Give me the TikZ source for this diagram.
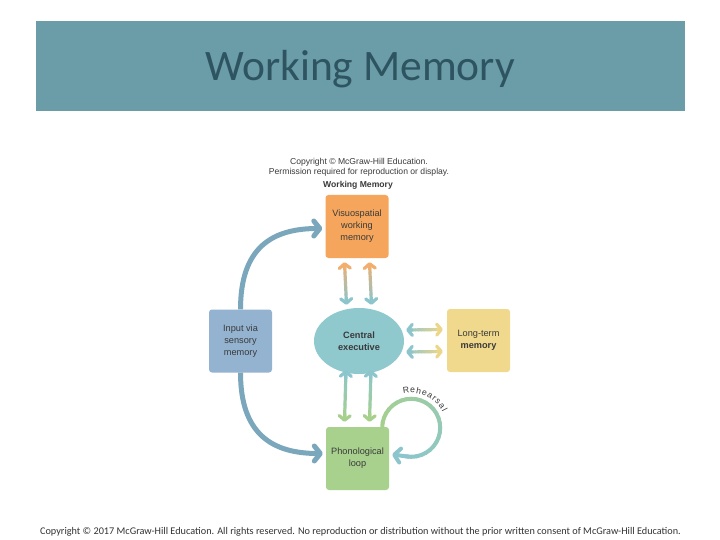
\documentclass[tikz,border=0pt]{standalone}
\usepackage{fontspec}
\setmainfont{Liberation Sans}
\newfontfamily\calib{Carlito}
\usetikzlibrary{arrows.meta,calc,shapes.geometric}

\definecolor{titlebar}{HTML}{6A9DA7}
\definecolor{titletext}{HTML}{2D5460}
\definecolor{orangebox}{HTML}{F6A65C}
\definecolor{tealbox}{HTML}{8FC9CE}
\definecolor{yellowbox}{HTML}{F0D98C}
\definecolor{bluebox}{HTML}{93B3D0}
\definecolor{greenbox}{HTML}{A9D18E}
\definecolor{arrorange}{HTML}{F2AE6C}
\definecolor{arrteal}{HTML}{8CC6CC}
\definecolor{arryellow}{HTML}{EBD68A}
\definecolor{arrgreen}{HTML}{A6D08C}
\definecolor{arrblue}{HTML}{7BA7BD}
\definecolor{txt}{HTML}{3A3A3A}

\tikzset{
  box/.style={rounded corners=3pt, minimum width=63pt, minimum height=63pt,
    inner sep=1pt, align=center, text=txt, font=\fontsize{9.2}{12}\selectfont},
  dline/.style={line width=3.2pt, line cap=round},
  loopline/.style={line width=4pt, line cap=round},
  inline/.style={line width=5pt, arrblue},
  smallhead/.style={font=\fontsize{8.6}{9}\selectfont, text=txt},
  letter/.style={font=\fontsize{8.6}{10}\selectfont, text=txt, inner sep=0pt,
    text height=6.2pt, text depth=0pt}
}

\newcommand\gradarrow[4]{%
  \foreach \k in {1,...,10}{%
    \pgfmathsetmacro\ta{\k/12}%
    \pgfmathsetmacro\tb{(\k+1)/12}%
    \pgfmathtruncatemacro\pc{100-(\k+0.5)*100/12}%
    \draw[dline,#3!\pc!#4] ($(#1)!\ta!(#2)$) -- ($(#1)!\tb!(#2)$);
  }%
  \draw[dline,#3,{Straight Barb[round,length=4.5pt,width=11pt]}-] (#1) -- ($(#1)!0.15!(#2)$);
  \draw[dline,#4,-{Straight Barb[round,length=4.5pt,width=11pt]}] ($(#1)!0.85!(#2)$) -- (#2);
}

\begin{document}
\begin{tikzpicture}[x=1pt,y=-1pt]
\useasboundingbox (0,0) rectangle (720,540);
\fill[white] (0,0) rectangle (720,540);

% title bar
\node[fill=titlebar, minimum width=649pt, minimum height=90pt, anchor=north west, inner sep=0pt] (bar) at (36,21) {};
\node[anchor=base, text=titletext, font=\calib\fontsize{43.5}{50}\selectfont] (title) at (360,81) {Working Memory};

% header of the figure
\node[anchor=base, smallhead] (copy1) at (359,165) {Copyright © McGraw-Hill Education.};
\node[anchor=base, smallhead] (copy2) at (359,175) {Permission required for reproduction or display.};
\node[anchor=base, smallhead, font=\bfseries\fontsize{8.6}{9}\selectfont] (wm) at (358,188) {Working Memory};

% boxes
\node[box, fill=orangebox] (vs) at (357,226.5) {Visuospatial\\working\\memory};
\node[box, fill=yellowbox] (lt) at (478.5,340.5) {Long-term\\\textbf{memory}};
\node[box, fill=bluebox] (in) at (240.5,341) {Input via\\sensory\\memory};
\node[box, fill=greenbox] (ph) at (357.5,458.5) {Phonological\\loop};
\node[ellipse, fill=tealbox, minimum width=90pt, minimum height=66pt, inner sep=0pt,
      align=center, text=txt, font=\bfseries\fontsize{9.2}{12}\selectfont] (ce) at (359,341) {Central\\executive};

% double arrows vs <-> ce
\coordinate (a1) at ($(vs.south)+(-12.5,4)$);
\coordinate (a2) at ($(ce.north)+(-12.5,-3)$);
\coordinate (b1) at ($(vs.south)+(12.5,4)$);
\coordinate (b2) at ($(ce.north)+(12.5,-3)$);
\gradarrow{a1}{a2}{arrorange}{arrteal}
\gradarrow{b1}{b2}{arrorange}{arrteal}

% double arrows ce <-> ph
\coordinate (c1) at ($(ce.south)+(-13,-4)$);
\coordinate (c2) at ($(ph.north)+(-13,-5)$);
\coordinate (d1) at ($(ce.south)+(12,-4)$);
\coordinate (d2) at ($(ph.north)+(12,-5)$);
\gradarrow{c1}{c2}{arrteal}{arrgreen}
\gradarrow{d1}{d2}{arrteal}{arrgreen}

% double arrows ce <-> lt
\coordinate (e1) at ($(ce.east)+(2,-11)$);
\coordinate (e2) at ($(lt.west)+(-4,-11)$);
\coordinate (f1) at ($(ce.east)+(2,11)$);
\coordinate (f2) at ($(lt.west)+(-4,11)$);
\gradarrow{e1}{e2}{arrteal}{arryellow}
\gradarrow{f1}{f2}{arrteal}{arryellow}

% input arrows
\draw[inline, -{Straight Barb[round,length=6pt,width=15pt]}]
  (in.north) .. controls +(0,-62) and +(-50,0) .. ($(vs.west)+(-3,2)$);
\draw[inline, -{Straight Barb[round,length=6pt,width=15pt]}]
  (in.south) .. controls +(0,62) and +(-50,0) .. ($(ph.west)+(-3,-5)$);

% rehearsal loop
\coordinate (lc) at ($(ph.north east)+(22,1)$);
\foreach \a in {180,190,...,450}{%
  \pgfmathtruncatemacro\pc{100-(\a+5-180)/2.8}%
  \draw[loopline, arrgreen!\pc!arrteal] ($(lc)+(\a:29)$) arc[start angle=\a, end angle=\a+10, radius=29];
}
\draw[loopline, arrteal, -{Straight Barb[round,length=6pt,width=14pt]}]
  ($(lc)+(455:29)$) -- ($(ph.east)+(3,-4)$);
\foreach \ch/\ang [count=\i] in {R/262,e/272.3,h/281.5,e/290.7,a/300.2,r/308.2,s/315.8,a/325,l/332.5}{%
  \pgfmathsetmacro\rot{270-\ang}%
  \node[letter, rotate=\rot] (reh\i) at ($(lc)+(\ang:38)$) {\ch};
}

% footer
\node[anchor=base, font=\calib\fontsize{10.25}{12}\selectfont, text=black!80] (foot) at (360.5,534)
  {Copyright © 2017 McGraw-Hill Education. All rights reserved. No reproduction or distribution without the prior written consent of McGraw-Hill Education.};
\end{tikzpicture}
\end{document}
